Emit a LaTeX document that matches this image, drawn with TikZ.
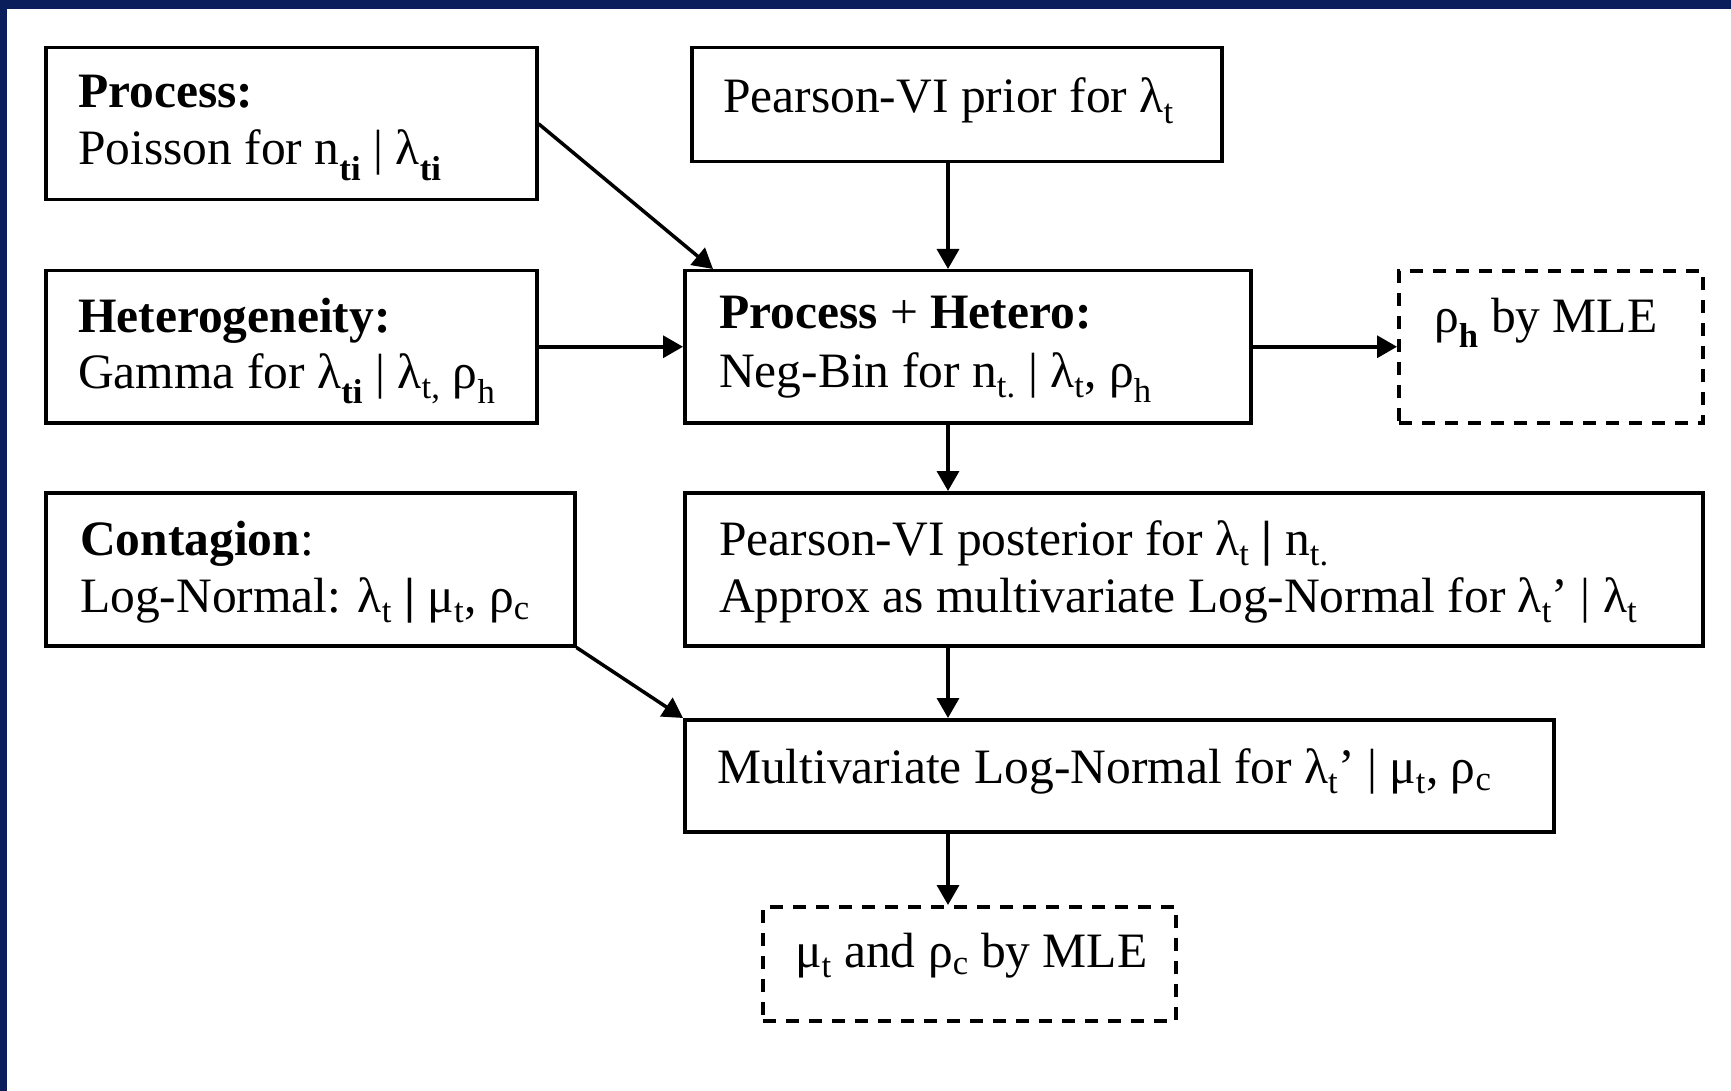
\documentclass[tikz,border=0pt]{standalone}
\usepackage{fontspec}
\setmainfont{Liberation Serif}
\usetikzlibrary{arrows.meta,calc}
\definecolor{navy}{RGB}{11,30,92}
\begin{document}
\begin{tikzpicture}[x=1pt,y=-1pt,
  box/.style={draw,line width=3.5pt,anchor=north west,inner sep=0pt,fill=white},
  dbox/.style={draw,line width=4pt,dash pattern=on 13pt off 10pt,anchor=north west,inner sep=0pt},
  txt/.style={anchor=base west,inner sep=0pt,font=\fontsize{49.5}{57}\selectfont},
  arr/.style={line width=3.5pt,-{Triangle[length=20pt,width=22pt]}}]
\useasboundingbox (0,0) rectangle (1731,1091);
\fill[white] (0,0) rectangle (1731,1091);
\fill[navy] (0,0) rectangle (1731,9);
\fill[navy] (0,0) rectangle (7,1091);
\coordinate (ax) at (948,0);
% boxes
\node[box,minimum width=491pt,minimum height=152pt] (proc) at (44,46) {};
\node[box,minimum width=530pt,minimum height=114pt] (prior) at (690,46) {};
\node[box,minimum width=491pt,minimum height=152pt] (het) at (44,269) {};
\node[box,minimum width=566pt,minimum height=152pt] (ph) at (683,269) {};
\node[dbox,minimum width=304pt,minimum height=152pt] (rho) at (1397,269) {};
\node[box,minimum width=529pt,minimum height=153pt] (cont) at (44,491) {};
\node[box,minimum width=1018pt,minimum height=153pt] (post) at (683,491) {};
\node[box,minimum width=869pt,minimum height=112pt] (mv) at (683,718) {};
\node[dbox,minimum width=413pt,minimum height=114pt] (mu) at (761,905) {};
% texts
\node[txt] (t1a) at (78,108) {\textbf{Process:}};
\node[txt] (t1b) at (78,165) {Poisson for n\textsubscript{\textbf{ti}} | λ\textsubscript{\textbf{ti}}};
\node[txt] (t2) at (723,113) {Pearson-VI prior for λ\textsubscript{t}};
\node[txt] (t3a) at (78,332) {\textbf{Heterogeneity:}};
\node[txt] (t3b) at (78,388) {Gamma for λ\textsubscript{\textbf{ti}} | λ\textsubscript{t,} ρ\textsubscript{h}};
\node[txt] (t4a) at (719,328) {\textbf{Process} + \textbf{Hetero:}};
\node[txt] (t4b) at (719,387) {Neg-Bin for n\textsubscript{t.} | λ\textsubscript{t}, ρ\textsubscript{h}};
\node[txt] (t5) at (1434,332) {ρ\textsubscript{\textbf{h}} by MLE};
\node[txt] (t6a) at (80,555) {\textbf{Contagion}:};
\node[txt] (t6b) at (80,612) {Log-Normal: λ\textsubscript{t} \textbf{|} μ\textsubscript{t}, ρ\textsubscript{c}};
\node[txt] (t7a) at (719,555) {Pearson-VI posterior for λ\textsubscript{t} \textbf{|} n\textsubscript{t.}};
\node[txt] (t7b) at (719,612) {Approx as multivariate Log-Normal for λ\textsubscript{t}’ | λ\textsubscript{t}};
\node[txt] (t8) at (717,783) {Multivariate Log-Normal for λ\textsubscript{t}’ | μ\textsubscript{t}, ρ\textsubscript{c}};
\node[txt] (t9) at (795,967) {μ\textsubscript{t} and ρ\textsubscript{c} by MLE};
% arrows
\draw[arr] (proc.east) -- ([xshift=30pt]ph.north west);
\draw[arr] (prior.south -| ax) -- (ph.north -| ax);
\draw[arr] (het.east) -- (het.east -| ph.west);
\draw[arr] (ph.east) -- (ph.east -| rho.west);
\draw[arr] (ph.south -| ax) -- (post.north -| ax);
\draw[arr] (cont.south east) -- (mv.north west);
\draw[arr] (post.south -| ax) -- (mv.north -| ax);
\draw[arr] (mv.south -| ax) -- (mu.north -| ax);
\end{tikzpicture}
\end{document}
